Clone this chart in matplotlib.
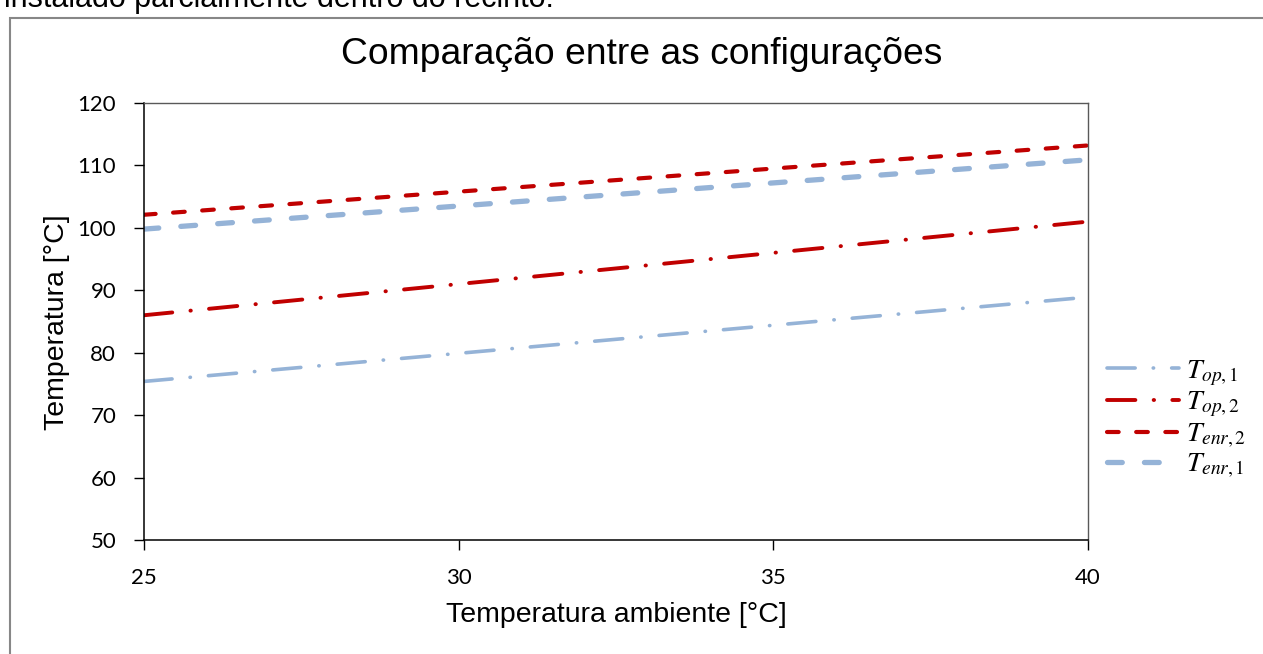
import numpy as np
import matplotlib
matplotlib.use("Agg")
import matplotlib.pyplot as plt
from matplotlib.patches import Rectangle

# data
t_amb = [25, 30, 35, 40]
t_op1 = [75.4, 79.9, 84.4, 88.9]
t_op2 = [86.0, 91.0, 96.0, 101.0]
t_enr2 = [102.1, 105.8, 109.5, 113.2]
t_enr1 = [99.8, 103.5, 107.2, 110.9]

x_ticks = [25, 30, 35, 40]
y_ticks = [50, 60, 70, 80, 90, 100, 110, 120]

blue = "#95B3D7"
red = "#C00000"

plt.rcParams["mathtext.fontset"] = "stix"

W, H = 1263, 654
dpi = 100
fig = plt.figure(figsize=(W / dpi, H / dpi), dpi=dpi)

def fx(px):
    return px / W

def fy(py):
    return 1 - py / H

# outer chart border (continues past the image edge)
fig.patches.append(Rectangle((fx(10), -0.1), 1.2, fy(18) + 0.1,
                             transform=fig.transFigure, fill=False,
                             edgecolor="#878787", lw=1.5))

# cut-off line of text above the chart
fig.text(fx(4), fy(7), "instalado parcialmente dentro do recinto.",
         fontsize=22, family="Liberation Sans", va="baseline", ha="left")

ax = fig.add_axes([fx(144), fy(540), fx(1088) - fx(144), fy(103) - fy(540)])

ax.plot(t_amb, t_op1, color=blue, lw=2.6, dash_capstyle="round",
        dashes=(7.8, 5.0, 0.1, 5.0), label=r"$T_{op,1}$")
ax.plot(t_amb, t_op2, color=red, lw=2.8, dash_capstyle="round",
        dashes=(7.3, 4.7, 0.1, 4.7), label=r"$T_{op,2}$")
ax.plot(t_amb, t_enr2, color=red, lw=3.0, dash_capstyle="round",
        dashes=(2.8, 4.2), label=r"$T_{enr,2}$")
ax.plot(t_amb, t_enr1, color=blue, lw=3.8, dash_capstyle="round",
        dashes=(2.8, 4.2), label=r"$T_{enr,1}$")

ax.set_xlim(25, 40)
ax.set_ylim(50, 120)
ax.set_xticks(x_ticks)
ax.set_yticks(y_ticks)
ax.tick_params(direction="out", length=7, width=1, pad=13,
               labelsize=16, colors="black")
for lab in ax.get_xticklabels() + ax.get_yticklabels():
    lab.set_family("Lato")

for side in ["left", "bottom"]:
    ax.spines[side].set_color("black")
    ax.spines[side].set_linewidth(1.1)
for side in ["top", "right"]:
    ax.spines[side].set_color("#595959")
    ax.spines[side].set_linewidth(1.0)

fig.text(fx(642), fy(64), "Comparação entre as configurações",
         fontsize=26.8, family="Liberation Sans", ha="center", va="baseline")
fig.text(fx(616), fy(622), "Temperatura ambiente [°C]",
         fontsize=20.5, family="Liberation Sans", ha="center", va="baseline")
fig.text(fx(57), fy(322), "Temperatura [°C]", rotation=90,
         fontsize=20.5, family="Liberation Sans", ha="center", va="center")

ax.legend(loc="center left", bbox_to_anchor=(fx(1107), fy(418)),
          bbox_transform=fig.transFigure, frameon=False, fontsize=20,
          handlelength=2.6, handletextpad=0.25, labelspacing=0.0,
          borderpad=0, borderaxespad=0)

fig.savefig("out.png", dpi=dpi)
